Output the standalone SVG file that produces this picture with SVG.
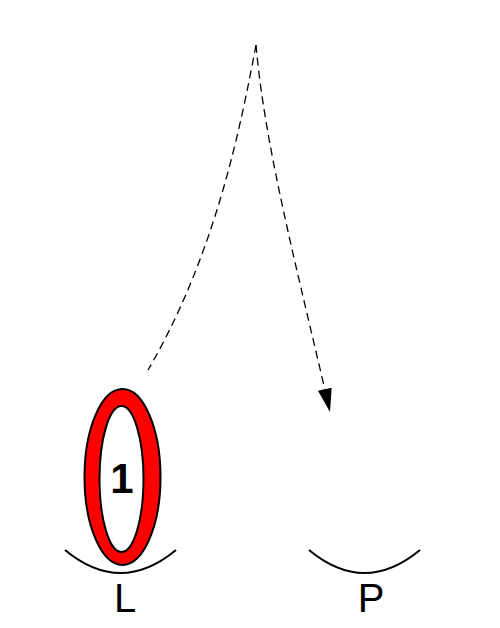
<svg xmlns="http://www.w3.org/2000/svg" width="500" height="628" viewBox="0 0 500 628">
<style>
.lbl{font-family:"Liberation Sans",Arial,sans-serif;font-size:40px;fill:#000;text-anchor:middle}
.arc{fill:none;stroke:#000;stroke-width:2}
.con{fill:none;stroke:#000;stroke-width:1.3;stroke-dasharray:8 5}
</style>
<defs>
<marker id="ah" markerUnits="userSpaceOnUse" markerWidth="24" markerHeight="14" viewBox="0 0 20 12" refX="20" refY="6" orient="auto">
<path d="M0,0 L20,6 L0,12 Z" fill="#000"/>
</marker>
</defs>
<rect width="500" height="628" fill="#fff"/>
<g id="connectors">
<path class="con" d="M256,45 C240,130 215,255 148,370"/>
<path class="con" d="M256,45 C265,150 300,280 330,412" marker-end="url(#ah)"/>
</g>
<g id="node1">
<ellipse cx="122.5" cy="477" rx="38" ry="88" fill="#ff0000" stroke="#000" stroke-width="2"/>
<ellipse cx="121.5" cy="479" rx="22" ry="73" fill="#fff" stroke="#000" stroke-width="2"/>
<text class="lbl" x="122" y="493" font-weight="bold" style="font-size:42px">1</text>
</g>
<g id="L">
<path class="arc" d="M65,550 Q120.5,596 176,550"/>
<text class="lbl" x="125" y="612">L</text>
</g>
<g id="P">
<path class="arc" d="M309,550 Q364.5,596 420,550"/>
<text class="lbl" x="371" y="612">P</text>
</g>
</svg>
